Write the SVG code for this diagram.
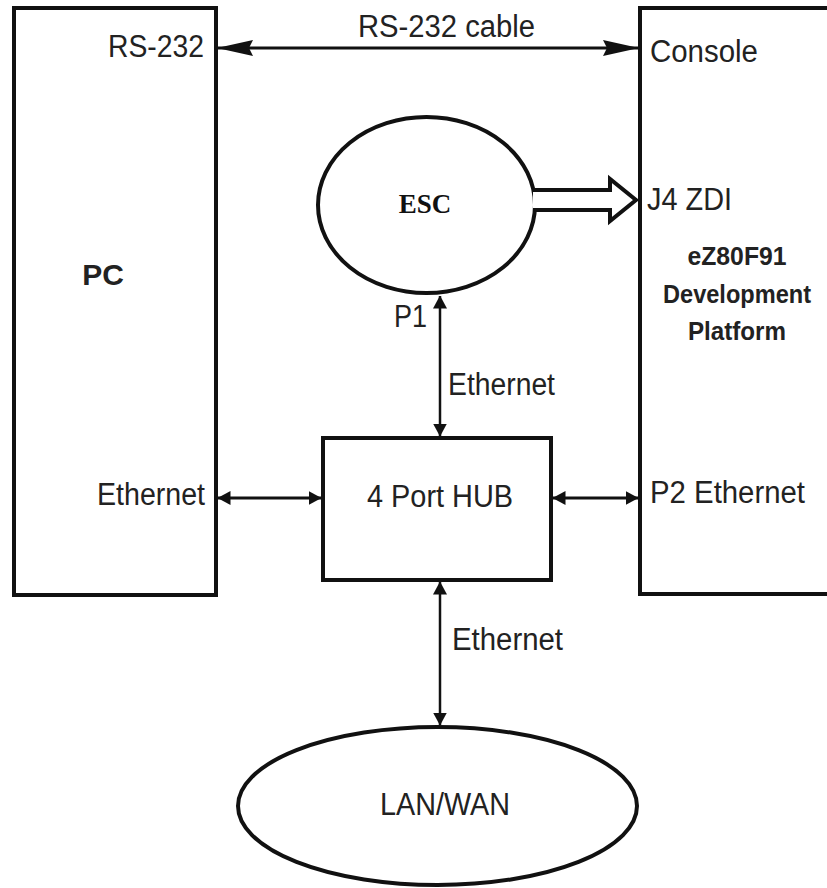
<svg xmlns="http://www.w3.org/2000/svg" width="827" height="888" viewBox="0 0 827 888">
  <defs>
    <style>
      .box { fill: #fff; stroke: #111; stroke-width: 4; }
      .ell { fill: #fff; stroke: #111; stroke-width: 4; }
      .lbl { font-family: "Liberation Sans", Arial, sans-serif; font-size: 31px; fill: #222; }
      .bold { font-family: "Liberation Sans", Arial, sans-serif; font-weight: bold; fill: #222; }
      .serif { font-family: "Liberation Serif", "Times New Roman", serif; font-weight: bold; font-size: 27px; fill: #111; }
      .wire { stroke: #111; fill: none; }
    </style>
    <marker id="bigArrow" viewBox="0 0 36 18" markerWidth="36" markerHeight="18" refX="35" refY="9" orient="auto-start-reverse" markerUnits="userSpaceOnUse">
      <path d="M0,1 L36,9 L0,17 L4,9 Z" fill="#111"/>
    </marker>
    <marker id="smallArrow" viewBox="0 0 13 14" markerWidth="13" markerHeight="14" refX="12.5" refY="7" orient="auto-start-reverse" markerUnits="userSpaceOnUse">
      <path d="M0,0 L13,7 L0,14 Z" fill="#111"/>
    </marker>
  </defs>

  <rect width="827" height="888" fill="#fff"/>

  <g id="pc">
    <rect class="box" x="14" y="8" width="202" height="587"/>
    <text class="bold" x="103" y="285" font-size="30" text-anchor="middle">PC</text>
    <text class="lbl" x="204" y="57" text-anchor="end" textLength="96" lengthAdjust="spacingAndGlyphs">RS-232</text>
    <text class="lbl" x="205" y="505" text-anchor="end" textLength="108" lengthAdjust="spacingAndGlyphs">Ethernet</text>
  </g>

  <g id="platform">
    <rect class="box" x="640" y="8" width="200" height="586"/>
    <text class="lbl" x="650" y="62" textLength="108" lengthAdjust="spacingAndGlyphs">Console</text>
    <text class="lbl" x="647" y="210" textLength="85" lengthAdjust="spacingAndGlyphs">J4 ZDI</text>
    <text class="bold" x="737" y="265" font-size="25" text-anchor="middle" textLength="99" lengthAdjust="spacingAndGlyphs">eZ80F91</text>
    <text class="bold" x="737" y="303" font-size="25" text-anchor="middle" textLength="148" lengthAdjust="spacingAndGlyphs">Development</text>
    <text class="bold" x="737" y="340" font-size="25" text-anchor="middle" textLength="98" lengthAdjust="spacingAndGlyphs">Platform</text>
    <text class="lbl" x="650" y="503" textLength="155" lengthAdjust="spacingAndGlyphs">P2 Ethernet</text>
  </g>

  <g id="esc">
    <ellipse class="ell" cx="426.5" cy="205" rx="108.5" ry="88"/>
    <text class="serif" x="425" y="213" text-anchor="middle">ESC</text>
    <text class="lbl" x="394" y="327" textLength="33" lengthAdjust="spacingAndGlyphs">P1</text>
  </g>

  <g id="hub">
    <rect class="box" x="323" y="438" width="228" height="142"/>
    <text class="lbl" x="367" y="507" textLength="146" lengthAdjust="spacingAndGlyphs">4 Port HUB</text>
  </g>

  <g id="lanwan">
    <ellipse class="ell" cx="437.5" cy="806" rx="199.5" ry="79"/>
    <text class="lbl" x="380" y="815" textLength="130" lengthAdjust="spacingAndGlyphs">LAN/WAN</text>
  </g>

  <g id="connectors">
    <line class="wire" x1="218" y1="48" x2="638" y2="48" stroke-width="3" marker-start="url(#bigArrow)" marker-end="url(#bigArrow)"/>
    <text class="lbl" x="358" y="37" textLength="177" lengthAdjust="spacingAndGlyphs">RS-232 cable</text>

    <path d="M533,190 L610,190 L610,179 L636,200 L610,221 L610,210 L533,210" fill="#fff" stroke="#111" stroke-width="4" stroke-linejoin="miter"/>

    <line class="wire" x1="440" y1="296" x2="440" y2="436" stroke-width="2.5" marker-start="url(#smallArrow)" marker-end="url(#smallArrow)"/>
    <text class="lbl" x="448" y="395" textLength="107" lengthAdjust="spacingAndGlyphs">Ethernet</text>

    <line class="wire" x1="218" y1="498" x2="321" y2="498" stroke-width="3" marker-start="url(#smallArrow)" marker-end="url(#smallArrow)"/>
    <line class="wire" x1="553" y1="498" x2="638" y2="498" stroke-width="3" marker-start="url(#smallArrow)" marker-end="url(#smallArrow)"/>

    <line class="wire" x1="440" y1="582" x2="440" y2="725" stroke-width="2.5" marker-start="url(#smallArrow)" marker-end="url(#smallArrow)"/>
    <text class="lbl" x="452" y="650" textLength="111" lengthAdjust="spacingAndGlyphs">Ethernet</text>
  </g>
</svg>
